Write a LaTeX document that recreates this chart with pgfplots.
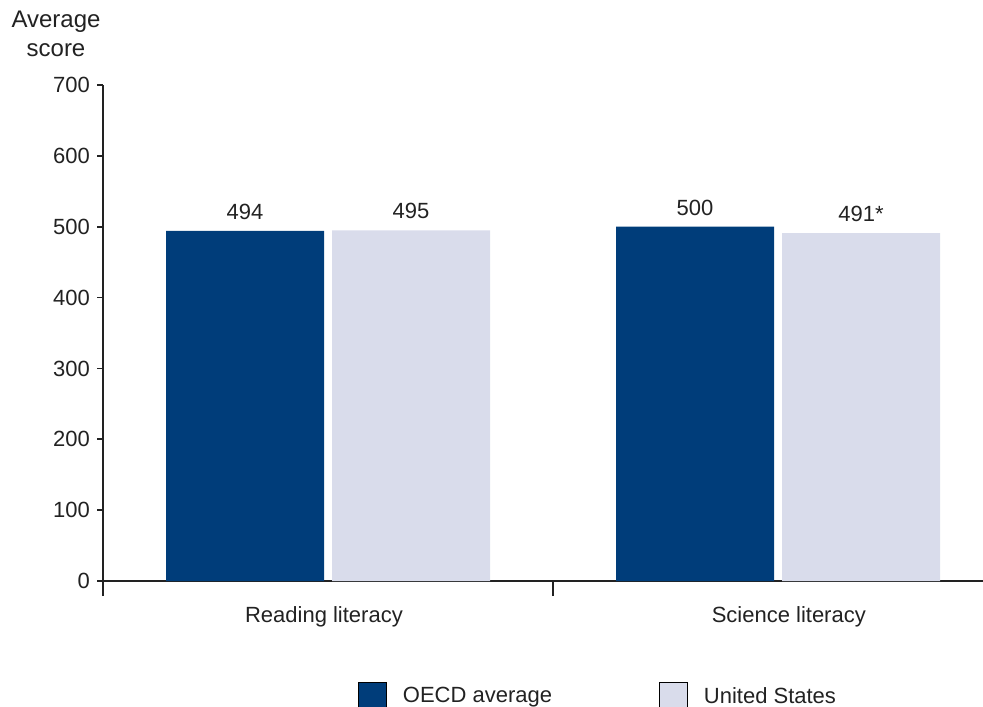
\documentclass[border=0pt]{standalone}
\usepackage{fontspec}
\setmainfont{Liberation Sans}
\usepackage{pgfplots}
\pgfplotsset{compat=1.18}
\definecolor{oecd}{RGB}{0,61,122}
\definecolor{us}{RGB}{217,220,235}
\definecolor{txt}{RGB}{34,34,34}
\begin{document}
\begin{tikzpicture}
\useasboundingbox (0,0) rectangle (491.5pt,353pt);
\node[align=center, font=\fontsize{12}{14.5}\selectfont, text=txt, inner sep=0pt] at (28pt,336pt) {Average\\score};
\begin{axis}[
  at={(51.5pt,62.5pt)}, anchor=south west,
  scale only axis, width=450pt, height=248pt,
  xmin=0, xmax=2, ymin=0, ymax=700,
  axis lines*=left,
  axis line style={line width=1pt, color=txt},
  ybar, bar width=79pt, ybar=4pt,
  ytick={0,100,...,700},
  xtick={0.491,1.524},
  xticklabels={Reading literacy, Science literacy},
  x tick style={draw=none},
  y tick style={line width=0.8pt, color=txt},
  major tick length=3pt,
  tick align=outside,
  extra x ticks={0,1,2},
  extra x tick labels={},
  extra x tick style={major tick length=7.5pt, x tick style={draw=txt, line width=0.8pt}},
  tick label style={font=\fontsize{11}{13}\selectfont, text=txt},
  /pgf/number format/assume math mode=true,
  xticklabel style={yshift=-6pt},
  nodes near coords,
  point meta=explicit symbolic,
  every node near coord/.append style={font=\fontsize{11}{13}\selectfont, text=txt, yshift=2pt},
  legend style={at={(0.5512,0)}, anchor=north, yshift=-50.5pt, draw=none, fill=none, inner sep=0pt,
    font=\fontsize{11}{13}\selectfont, text=txt,
    /tikz/every odd column/.append style={column sep=6pt},
    /tikz/every even column/.append style={column sep=51.5pt}},
  legend columns=2,
  legend image code/.code={\draw[#1] (0pt,-7pt) rectangle (14pt,7pt);},
]
\addplot[fill=oecd, draw=none] coordinates {(0.5,494) [494] (1.5,500) [500]};
\addplot[fill=us, draw=none] coordinates {(0.5,495) [495] (1.5,491) [491*]};
\legend{}
\addlegendimage{legend image code/.code={\fill[oecd] (0pt,-7pt) rectangle (14pt,7pt);}}
\addlegendentry{OECD average}
\addlegendimage{legend image code/.code={\draw[fill=us, draw=oecd, line width=1pt] (0.5pt,-6.5pt) rectangle (13.5pt,6.5pt);}}
\addlegendentry{United States}
\end{axis}
\end{tikzpicture}
\end{document}
